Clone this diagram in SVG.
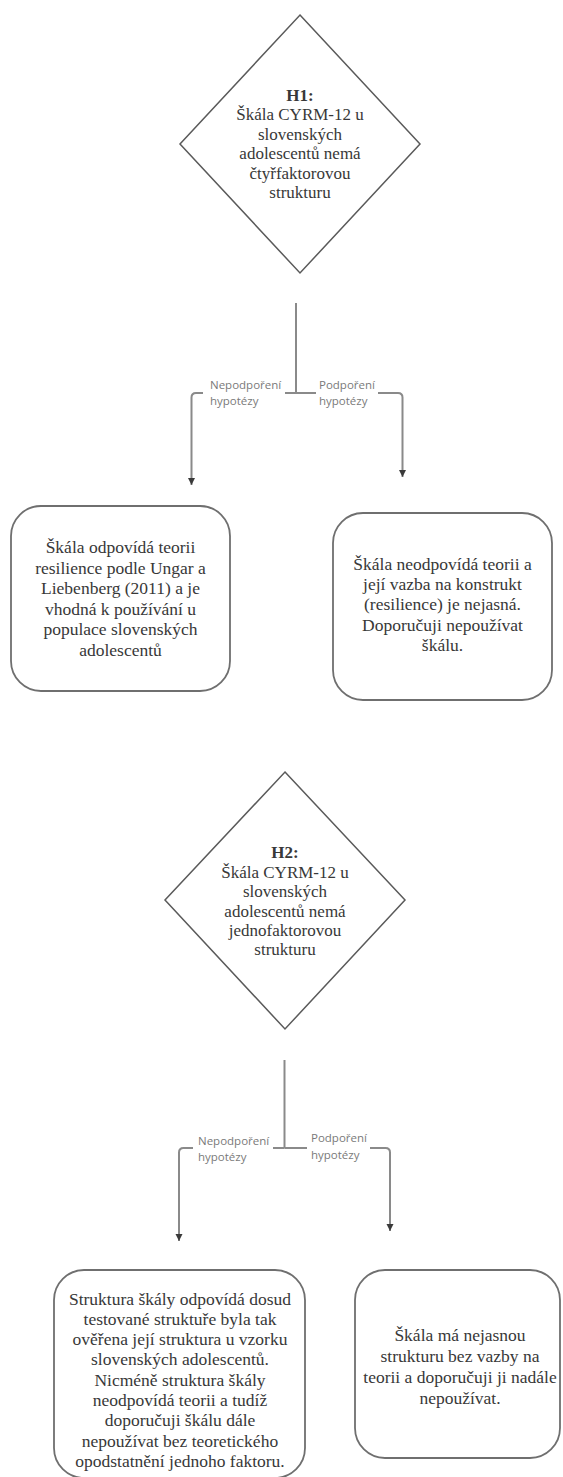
<svg xmlns="http://www.w3.org/2000/svg" width="563" height="1477" viewBox="0 0 563 1477">
<style>
.bg{fill:#ffffff}
.dia{fill:#ffffff;stroke:#5a5a5a;stroke-width:1.5}
.box{fill:#ffffff;stroke:#6f6f6f;stroke-width:1.8}
.t{font-family:"Liberation Serif","Times New Roman",serif;fill:#383838;text-anchor:middle}
.td{font-size:17px}
.tb{font-size:17.5px}
.b{font-weight:bold}
.ln{fill:none;stroke:#8a8a8a;stroke-width:2}
.lb{font-family:"Open Sans","Noto Sans",sans-serif;font-size:11.5px;fill:#7a7a7a}
</style>
<defs>
<marker id="ah" markerUnits="userSpaceOnUse" markerWidth="8" markerHeight="8" refX="7" refY="4" orient="auto">
<path d="M0,0.5 L7,4 L0,7.5 z" fill="#3a3a3a"/>
</marker>
</defs>
<rect class="bg" x="0" y="0" width="563" height="1477"/>

<g id="h1">
<polygon class="dia" points="300,15 420,144 300,273 180,144"/>
<text class="t td"><tspan class="b" x="300" y="100.5">H1:</tspan><tspan x="300" y="120">Škála CYRM-12 u</tspan><tspan x="300" y="139.5">slovenských</tspan><tspan x="300" y="159">adolescentů nemá</tspan><tspan x="300" y="178.5">čtyřfaktorovou</tspan><tspan x="300" y="198">strukturu</tspan></text>
</g>

<g id="connectors">
<path class="ln" d="M296,303 V393"/>
<path class="ln" d="M296,393 H285"/>
<path class="ln" d="M203,393 H196 Q191.5,393 191.5,397.5 V485" marker-end="url(#ah)"/>
<path class="ln" d="M296,393 H316"/>
<path class="ln" d="M378,393 H398 Q402.5,393 402.5,397.5 V477" marker-end="url(#ah)"/>
<text class="lb"><tspan x="210" y="389">Nepodpoření</tspan><tspan x="210" y="405">hypotézy</tspan></text>
<text class="lb"><tspan x="319" y="389">Podpoření</tspan><tspan x="319" y="405">hypotézy</tspan></text>

<path class="ln" d="M284.5,1060 V1148"/>
<path class="ln" d="M284.5,1148 H273"/>
<path class="ln" d="M193,1148 H183.5 Q179,1148 179,1152.5 V1241" marker-end="url(#ah)"/>
<path class="ln" d="M284.5,1148 H307"/>
<path class="ln" d="M370,1148 H385.5 Q390,1148 390,1152.5 V1231" marker-end="url(#ah)"/>
<text class="lb"><tspan x="198" y="1145">Nepodpoření</tspan><tspan x="198" y="1161">hypotézy</tspan></text>
<text class="lb"><tspan x="311" y="1142">Podpoření</tspan><tspan x="311" y="1159">hypotézy</tspan></text>
</g>

<g id="h1-no">
<rect class="box" x="11" y="506" width="219" height="185" rx="30" ry="30"/>
<text class="t tb"><tspan x="120.5" y="553">Škála odpovídá teorii</tspan><tspan x="120.5" y="573.5">resilience podle Ungar a</tspan><tspan x="120.5" y="594">Liebenberg (2011) a je</tspan><tspan x="120.5" y="614.5">vhodná k používání u</tspan><tspan x="120.5" y="635">populace slovenských</tspan><tspan x="120.5" y="655.5">adolescentů</tspan></text>
</g>

<g id="h1-yes">
<rect class="box" x="333" y="513" width="219" height="187" rx="30" ry="30"/>
<text class="t tb"><tspan x="442.5" y="569.5">Škála neodpovídá teorii a</tspan><tspan x="442.5" y="590">její vazba na konstrukt</tspan><tspan x="442.5" y="610">(resilience) je nejasná.</tspan><tspan x="442.5" y="630.5">Doporučuji nepoužívat</tspan><tspan x="442.5" y="651">škálu.</tspan></text>
</g>

<g id="h2">
<polygon class="dia" points="285,772 405,900 285,1029 165,900"/>
<text class="t td"><tspan class="b" x="285" y="857.5">H2:</tspan><tspan x="285" y="877.5">Škála CYRM-12 u</tspan><tspan x="285" y="897">slovenských</tspan><tspan x="285" y="916.5">adolescentů nemá</tspan><tspan x="285" y="935.5">jednofaktorovou</tspan><tspan x="285" y="955">strukturu</tspan></text>
</g>

<g id="h2-no">
<rect class="box" x="54" y="1270" width="251" height="208" rx="30" ry="30"/>
<text class="t tb"><tspan x="180" y="1304.5">Struktura škály odpovídá dosud</tspan><tspan x="180" y="1324.8">testované struktuře byla tak</tspan><tspan x="180" y="1345.1">ověřena její struktura u vzorku</tspan><tspan x="180" y="1365.4">slovenských adolescentů.</tspan><tspan x="180" y="1385.7">Nicméně struktura škály</tspan><tspan x="180" y="1406">neodpovídá teorii a tudíž</tspan><tspan x="180" y="1426.3">doporučuji škálu dále</tspan><tspan x="180" y="1446.6">nepoužívat bez teoretického</tspan><tspan x="180" y="1466.9">opodstatnění jednoho faktoru.</tspan></text>
</g>

<g id="h2-yes">
<rect class="box" x="355" y="1270" width="205" height="188" rx="30" ry="30"/>
<text class="t tb"><tspan x="460" y="1341">Škála má nejasnou</tspan><tspan x="460" y="1362">strukturu bez vazby na</tspan><tspan x="460" y="1383">teorii a doporučuji ji nadále</tspan><tspan x="460" y="1404">nepoužívat.</tspan></text>
</g>
</svg>
